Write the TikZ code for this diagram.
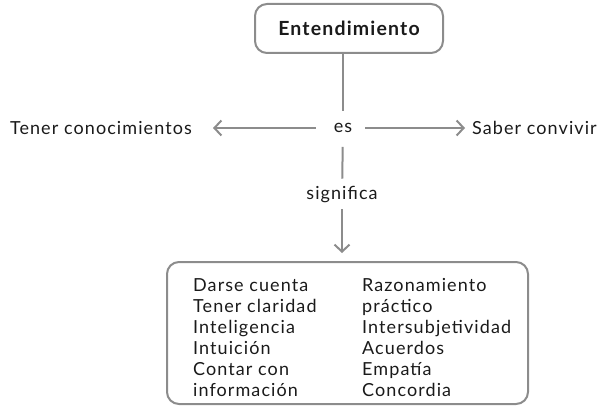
\documentclass[tikz,border=0pt]{standalone}
\usepackage{fontspec}
\setmainfont{Lato}[LetterSpace=6]
\usetikzlibrary{arrows.meta}
\definecolor{ln}{HTML}{8C8C8C}
\definecolor{tx}{HTML}{1A1A1A}
\begin{document}
\begin{tikzpicture}[x=1pt,y=-1pt,
  lbl/.style={inner sep=0pt,text=tx,font=\fontsize{18}{21}\selectfont},
  rbox/.style={draw=ln,line width=2pt,rounded corners=12pt},
  conn/.style={draw=ln,line width=2pt},
  arr/.style={conn,-{Straight Barb[length=7pt,width=15pt]}}]
\useasboundingbox (0,0) rectangle (598,412);
\node[rbox,minimum width=188pt,minimum height=49pt,text=tx,font=\fontsize{19.5}{21}\selectfont\bfseries] (ent) at (349,28.5) {Entendimiento};
\node[lbl] (es) at (343,128) {es};
\node[lbl,anchor=east] (tc) at (192,128) {Tener conocimientos};
\node[lbl,anchor=west] (sc) at (472,128) {Saber convivir};
\node[lbl] (sig) at (342,195) {significa};
\node[rbox,minimum width=361pt,minimum height=142pt] (list) at (347.5,333) {};
\node[lbl,anchor=north west,align=left] (c1) at (193,278) {Darse cuenta\\Tener claridad\\Inteligencia\\Intuición\\Contar con\\información};
\node[lbl,anchor=north west,align=left] (c2) at (362,278) {Razonamiento\\práctico\\Intersubjetividad\\Acuerdos\\Empatía\\Concordia};
\draw[conn,shorten >=12pt] (es |- ent.south) -- (es);
\draw[conn,shorten <=14pt,shorten >=8pt] (es) -- (sig);
\draw[arr,shorten <=18pt,shorten >=21pt] (es) -- (tc);
\draw[arr,shorten <=13pt,shorten >=7pt] (es) -- (sc);
\draw[arr,shorten <=6pt,shorten >=8pt] (sig) -- (sig |- list.north);
\end{tikzpicture}
\end{document}
